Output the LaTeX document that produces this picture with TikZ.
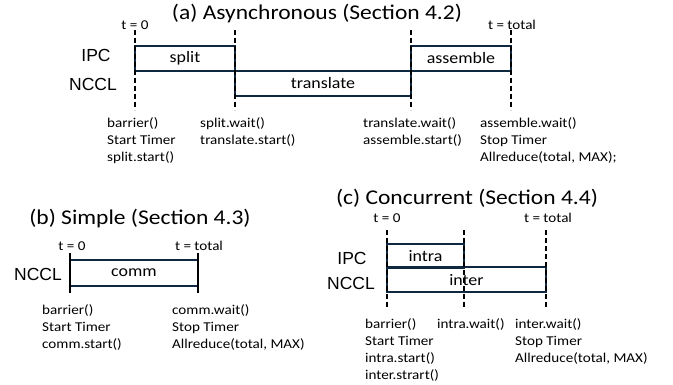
\documentclass[tikz,border=0pt]{standalone}
\usepackage{fontspec}
\setmainfont[FakeStretch=1.12]{Carlito}
\newfontfamily\lanefont{Liberation Sans}
\usepackage{tikz}
\usetikzlibrary{positioning}
\definecolor{boxline}{HTML}{0E2841}
\newcommand{\fs}[1]{\fontsize{#1}{17}\selectfont}

\begin{document}
\begin{tikzpicture}[x=1pt, y=-1pt,
  title/.style={font=\fs{21}},
  lane/.style={font=\lanefont\fs{17.5}},
  task/.style={draw=boxline, line width=2pt, inner sep=0pt, font=\fs{16}},
  tmark/.style={font=\fs{13.5}, inner sep=0pt},
  call/.style={font=\fs{13.5}, align=left, anchor=north west, inner sep=0pt},
  sync/.style={draw=black, line width=1.8pt, dash pattern=on 5pt off 3pt},
  wall/.style={draw=black, line width=2pt}]
\useasboundingbox (0,0) rectangle (673,385);

% (a) asynchronous
\node[title] (titleA) at (317,14) {(a) Asynchronous (Section 4.2)};
\node[lane] (ipcA) at (96,55) {IPC};
\node[lane] (ncclA) at (93,84) {NCCL};
\node[task, minimum width=100, minimum height=25] (split) at (185,58.5) {split};
\node[task, minimum width=176, minimum height=25] (translate) at (323,83.5) {translate};
\node[task, minimum width=100, minimum height=25] (assemble) at (461,58.5) {assemble};
\foreach \x in {135,235,411,511}
  \draw[sync] (\x,30) -- (\x,110);
\node[tmark] (startA) at (135,25) {t = 0};
\node[tmark] (endA) at (512,25) {t = total};
\node[call] (callA1) at (107,117) {barrier()\\Start Timer\\split.start()};
\node[call] (callA2) at (200,117) {split.wait()\\translate.start()};
\node[call] (callA3) at (363,117) {translate.wait()\\assemble.start()};
\node[call] (callA4) at (480,117) {assemble.wait()\\Stop Timer\\Allreduce(total, MAX);};

% (b) simple
\node[title] (titleB) at (140,219) {(b) Simple (Section 4.3)};
\node[lane] (ncclB) at (38,274) {NCCL};
\node[task, minimum width=128, minimum height=26] (comm) at (134,273) {comm};
\foreach \x in {70,198}
  \draw[wall] (\x,253) -- (\x,293);
\node[tmark] (startB) at (72,246) {t = 0};
\node[tmark] (endB) at (199,246) {t = total};
\node[call] (callB1) at (42,304) {barrier()\\Start Timer\\comm.start()};
\node[call] (callB2) at (172,304) {comm.wait()\\Stop Timer\\Allreduce(total, MAX)};

% (c) concurrent
\node[title] (titleC) at (467,198) {(c) Concurrent (Section 4.4)};
\node[lane] (ipcC) at (352,258) {IPC};
\node[lane] (ncclC) at (351,283) {NCCL};
\node[task, minimum width=77, minimum height=24] (intra) at (425.5,256) {intra};
\node[task, minimum width=159, minimum height=25] (inter) at (466.5,280) {inter};
\foreach \x in {387,464,546}
  \draw[sync] (\x,230) -- (\x,308);
\node[tmark] (startC) at (387,218) {t = 0};
\node[tmark] (endC) at (548,218) {t = total};
\node[call] (callC1) at (365,318) {barrier()\\Start Timer\\intra.start()\\inter.strart()};
\node[call] (callC2) at (437,318) {intra.wait()};
\node[call] (callC3) at (515,318) {inter.wait()\\Stop Timer\\Allreduce(total, MAX)};
\end{tikzpicture}
\end{document}
